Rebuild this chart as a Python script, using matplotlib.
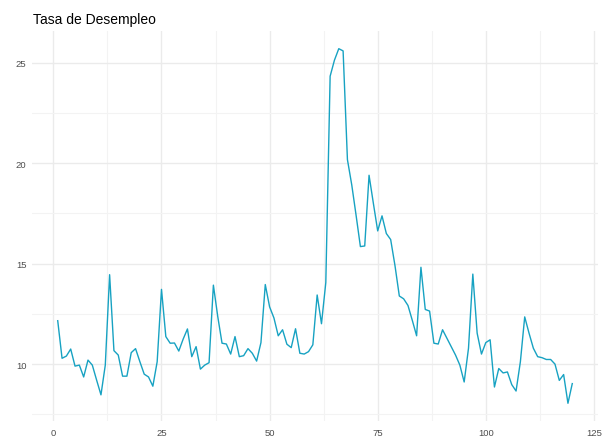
import numpy as np
import matplotlib.pyplot as plt

plt.rcParams['font.family'] = ['Liberation Sans', 'DejaVu Sans']

# tasa de desempleo, periodos 1..120
periodo = np.arange(1, 121)
tasa = [12.16, 10.29, 10.40, 10.75, 9.90, 9.95, 9.36, 10.20, 9.95, 9.20,
        8.47, 9.95, 14.45, 10.67, 10.45, 9.40, 9.40, 10.57, 10.77, 10.12,
        9.50, 9.36, 8.90, 10.12, 13.72, 11.37, 11.04, 11.05, 10.65, 11.24,
        11.75, 10.37, 10.87, 9.75, 9.95, 10.07, 13.93, 12.38, 11.04, 11.00,
        10.50, 11.37, 10.37, 10.42, 10.77, 10.54, 10.15, 11.07, 13.96, 12.85,
        12.30, 11.41, 11.71, 10.99, 10.82, 11.76, 10.54, 10.50, 10.62, 10.96,
        13.44, 12.01, 14.06, 24.33, 25.13, 25.70, 25.59, 20.18, 18.92, 17.41,
        15.85, 15.88, 19.40, 18.00, 16.63, 17.38, 16.50, 16.20, 14.90, 13.39,
        13.25, 12.92, 12.18, 11.41, 14.82, 12.72, 12.64, 11.04, 11.00, 11.71,
        11.29, 10.87, 10.45, 9.95, 9.11, 10.79, 14.48, 11.54, 10.50, 11.07,
        11.21, 8.86, 9.78, 9.56, 9.61, 8.98, 8.66, 10.12, 12.35, 11.54,
        10.79, 10.37, 10.32, 10.23, 10.23, 10.00, 9.19, 9.48, 8.05, 9.03]
xticks = [0, 25, 50, 75, 100, 125]
yticks = [10, 15, 20, 25]
titulo = 'Tasa de Desempleo'

fig = plt.figure(figsize=(6.06, 4.39), dpi=100)
ax = fig.add_axes([0.0528, 0.0387, 0.934, 0.8885])

ax.plot(periodo, tasa, color='#17A2C2', linewidth=1.0)

# expansion estilo ggplot (5%)
xr = periodo.max() - periodo.min()
yr = max(tasa) - min(tasa)
ax.set_xlim(periodo.min() - 0.05 * xr, periodo.max() + 0.05 * xr)
ax.set_ylim(min(tasa) - 0.05 * yr, max(tasa) + 0.05 * yr)

ax.set_xticks(xticks)
ax.set_yticks(yticks)
ax.set_xticks([12.5, 37.5, 62.5, 87.5, 112.5], minor=True)
ax.set_yticks([7.5, 12.5, 17.5, 22.5], minor=True)
ax.grid(True, which='major', color='#EBEBEB', linewidth=1.0)
ax.grid(True, which='minor', color='#F3F3F3', linewidth=0.8)
ax.set_axisbelow(True)
ax.tick_params(which='both', length=0, labelsize=6.8, labelcolor='#4D4D4D')
ax.tick_params(axis='y', pad=4)
ax.tick_params(axis='x', pad=5)
for s in ax.spines.values():
    s.set_visible(False)

fig.text(0.0545, 0.97, titulo, fontsize=10, ha='left', va='top', color='black')

fig.savefig('out.png', dpi=100)
